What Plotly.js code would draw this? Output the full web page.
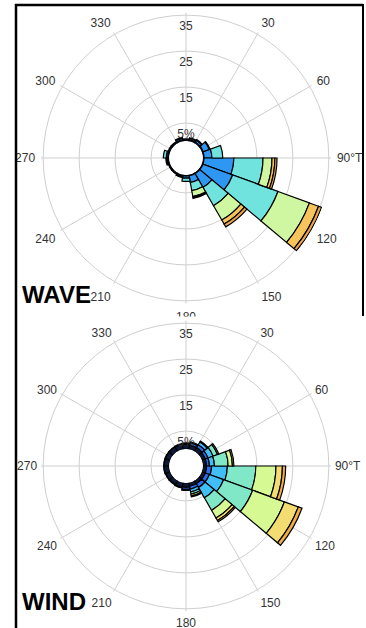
<!DOCTYPE html>
<html>
<head>
<meta charset="utf-8">
<script src="https://cdn.plot.ly/plotly-3.0.1.min.js"></script>
<style>
html,body{margin:0;padding:0;background:#fff;}
#chart{width:366px;height:628px;}
</style>
</head>
<body>
<div id="chart"></div>
<script>
// Direction bins (degrees true), 20 degree sectors
var directions = [0,20,40,60,80,100,120,140,160,180,200,220,240,260,280,300,320,340];

// WAVE frequency (%) per class, per direction
var waveC0 = [0.4,0.4,0.4,0.4,0.3,0.3,0.3,0.3,0.3,0.3,0.4,0.4,0.4,0.4,0.4,0.4,0.4,0.4];
var waveC1 = [0.2,0.4,0.6,1.8,2.2,8.3,8.8,4.4,1.9,0.6,0.2,0.1,0.1,0.3,0.4,0.2,0.2,0.5];
var waveC2 = [0.0,0.2,0.2,0.2,3.0,8.1,13.4,5.9,2.3,0.9,0.2,0.0,0.0,0.2,0.8,0.0,0.0,0.2];
var waveC3 = [0,0,0,0,0,2.5,9.3,4.6,1.7,0,0,0,0,0,0,0,0,0];
var waveC4 = [0,0,0,0,0,0.8,2.7,1.3,0.3,0,0,0,0,0,0,0,0,0];
var waveC5 = [0,0,0,0,0,0.6,0.9,0.9,0.2,0,0,0,0,0,0,0,0,0];

// WIND frequency (%) per class, per direction
var windC0 = [1.3,1.2,1.2,1.0,1.0,1.0,1.0,1.0,1.0,1.2,1.3,1.3,1.3,1.4,1.4,1.4,1.4,1.4];
var windC1 = [0.3,0.6,0.9,0.8,0.8,1.4,1.2,1.2,0.8,0.6,0.2,0.1,0.1,0.1,0.1,0.1,0.1,0.2];
var windC2 = [0.1,0.3,0.9,1.5,1.4,4.4,4.2,3.3,0.8,0.3,0,0,0,0,0,0,0,0];
var windC3 = [0,0,0.3,1.3,3.8,7.9,8.6,4.0,0.6,0,0,0,0,0,0,0,0,0];
var windC4 = [0,0,0,0.4,1.2,5.6,9.4,2.5,0.5,0,0,0,0,0,0,0,0,0];
var windC5 = [0,0,0,0,0.4,1.8,4.1,0.8,0.3,0,0,0,0,0,0,0,0,0];
var windC6 = [0,0,0,0,0,0.9,1.1,0.4,0,0,0,0,0,0,0,0,0,0];

// Tick labels
var angTickVals = [0,30,60,90,120,150,180,210,240,270,300,330];
var angTickText = ["","30","60","90°T","120","150","180","210","240","270","300","330"];
var radTickVals = [5,15,25,35];
var radTickText = ["5%","15","25","35"];

var waveColors = ["#1d2f55","#2e96f3","#70e3df","#cff7a2","#f7c45c","#eba64c"];
var windColors = ["#0e1936","#2a6ef0","#42bef7","#80e7c7","#d6f993","#f3dd72","#efae45"];

var waveSeries = [waveC0,waveC1,waveC2,waveC3,waveC4,waveC5];
var windSeries = [windC0,windC1,windC2,windC3,windC4,windC5,windC6];

var traces = [];
function addRose(series, colors, sub){
  series.forEach(function(vals, i){
    traces.push({
      type:'barpolar', subplot:sub, r:vals, theta:directions, width:20,
      marker:{color:colors[i], line:{color:'#000', width:1.2}},
      hoverinfo:'skip', showlegend:false
    });
  });
  traces.push({
    type:'scatterpolar', subplot:sub, mode:'text',
    r: radTickVals.map(function(v){return v-3.2;}), theta: radTickVals.map(function(){return 0;}),
    text: radTickText, textfont:{family:'Arial, Liberation Sans, sans-serif', size:12, color:'#333'},
    hoverinfo:'skip', showlegend:false
  });
}
addRose(waveSeries, waveColors, 'polar');
addRose(windSeries, windColors, 'polar2');

function polarCfg(ydom, tl){
  return {
    domain:{x:[0.11202,0.90437], y:ydom},
    hole:0.117,
    bgcolor:'#fff',
    bargap:0,
    radialaxis:{range:[0,35.6], tickvals:radTickVals, showticklabels:false, ticks:'',
      showline:false, gridcolor:'#cfcfcf', gridwidth:1},
    angularaxis:{direction:'clockwise', rotation:90, tickvals:angTickVals, ticktext:angTickText,
      ticks:'outside', ticklen:tl, tickcolor:'rgba(0,0,0,0)', showline:false, gridcolor:'#cfcfcf', gridwidth:1,
      tickfont:{family:'Arial, Liberation Sans, sans-serif', size:12, color:'#333'}}
  };
}
function px(x){return x/366;}
function py(y){return 1-y/628;}

var layout = {
  width:366, height:628,
  margin:{l:0,r:0,t:0,b:0},
  paper_bgcolor:'#fff',
  showlegend:false,
  polar: polarCfg([0.51752,0.97930], 3),
  polar2: polarCfg([0.02707,0.48885], 1),
  shapes:[
    {type:'rect', xref:'paper', yref:'paper', x0:px(0), x1:px(366), y0:py(316.5), y1:py(321), fillcolor:'#fff', line:{width:0}, layer:'above'},
    {type:'line', xref:'paper', yref:'paper', x0:px(16), x1:px(16), y0:py(4), y1:py(628), line:{color:'#000', width:2.5}},
    {type:'line', xref:'paper', yref:'paper', x0:px(15), x1:px(363), y0:py(5), y1:py(5), line:{color:'#000', width:2.5}},
    {type:'line', xref:'paper', yref:'paper', x0:px(363), x1:px(363), y0:py(4), y1:py(316), line:{color:'#000', width:2}}
  ],
  annotations:[
    {text:'<b>WAVE</b>', xref:'paper', yref:'paper', x:px(20), y:py(310), xanchor:'left', yanchor:'bottom',
      showarrow:false, font:{family:'Arial, Liberation Sans, sans-serif', size:24, color:'#000'}},
    {text:'<b>WIND</b>', xref:'paper', yref:'paper', x:px(20), y:py(617), xanchor:'left', yanchor:'bottom',
      showarrow:false, font:{family:'Arial, Liberation Sans, sans-serif', size:24, color:'#000'}}
  ]
};

Plotly.newPlot('chart', traces, layout, {staticPlot:true, displayModeBar:false});
</script>
</body>
</html>
